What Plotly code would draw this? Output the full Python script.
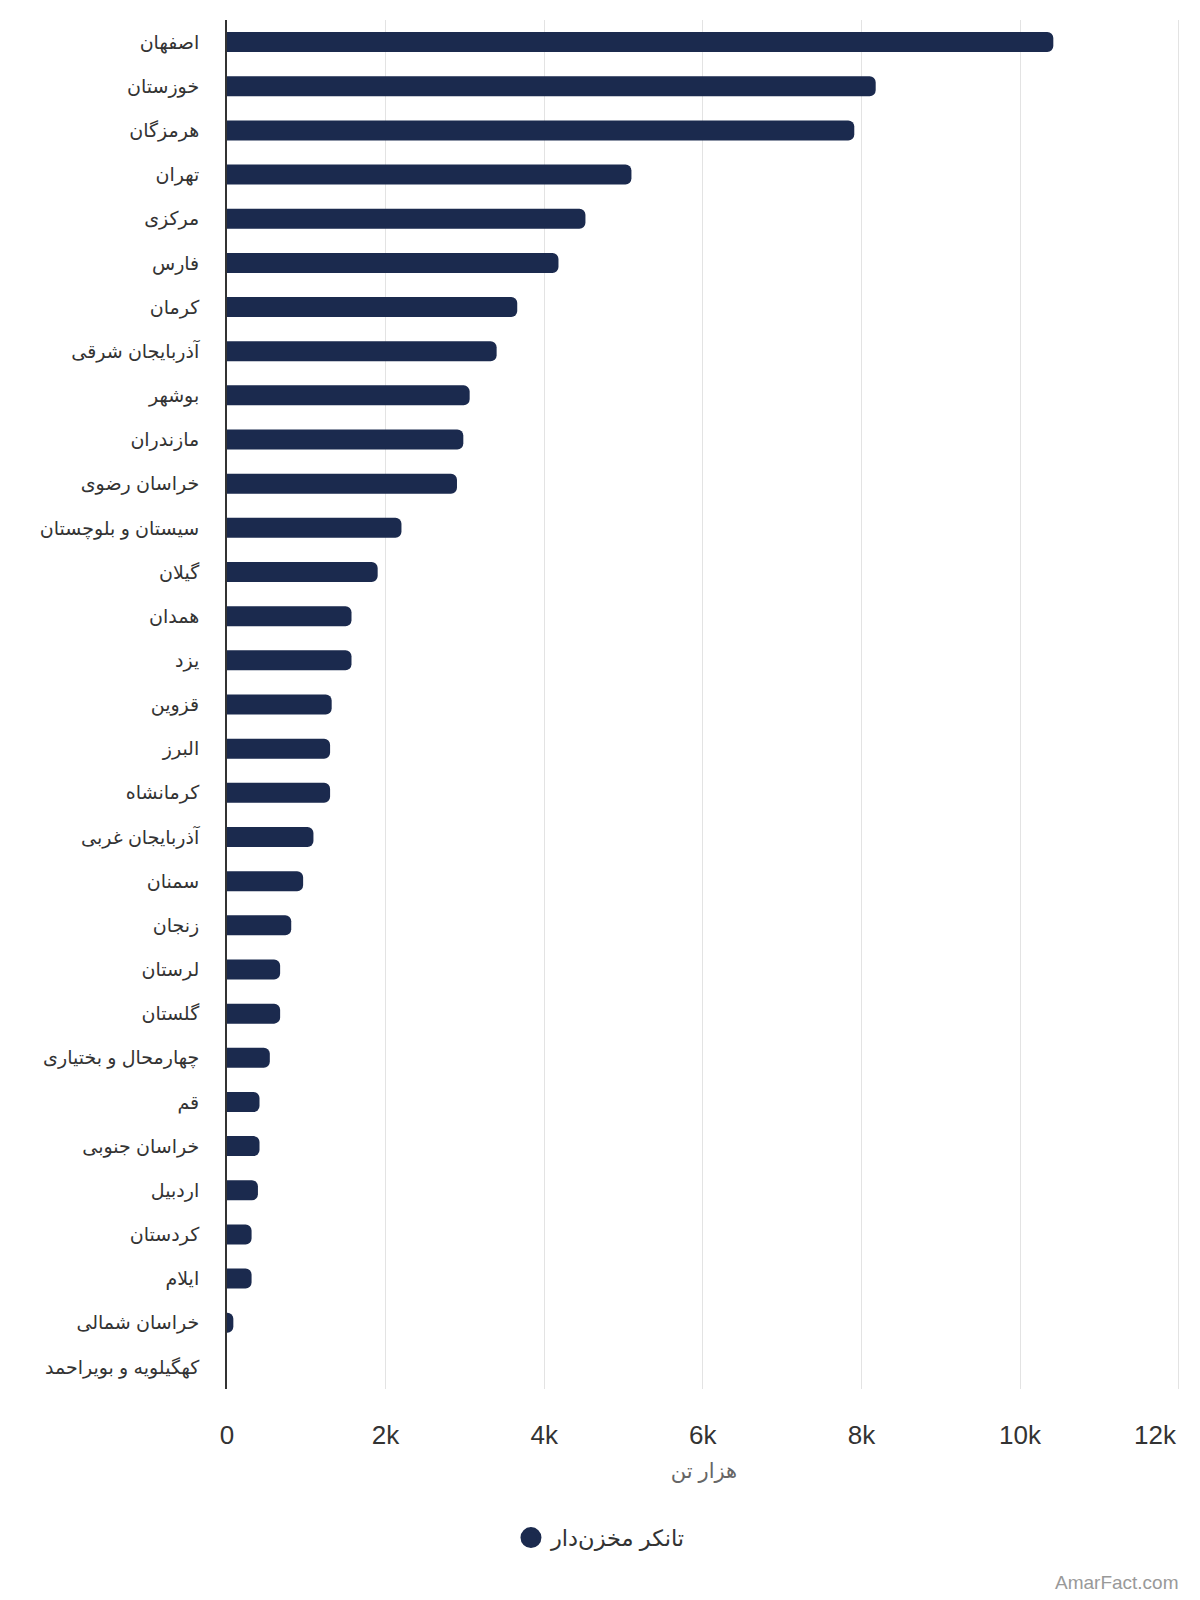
import plotly.graph_objects as go

provinces = ["اصفهان", "خوزستان", "هرمزگان", "تهران", "مرکزی", "فارس", "کرمان",
             "آذربایجان شرقی", "بوشهر", "مازندران", "خراسان رضوی", "سیستان و بلوچستان",
             "گیلان", "همدان", "یزد", "قزوین", "البرز", "کرمانشاه", "آذربایجان غربی",
             "سمنان", "زنجان", "لرستان", "گلستان", "چهارمحال و بختیاری", "قم",
             "خراسان جنوبی", "اردبیل", "کردستان", "ایلام", "خراسان شمالی",
             "کهگیلویه و بویراحمد"]
values = [10420, 8180, 7910, 5100, 4520, 4180, 3660, 3400, 3060, 2980, 2900, 2200,
          1900, 1570, 1570, 1320, 1300, 1300, 1090, 960, 810, 670, 670, 540, 410,
          410, 390, 310, 310, 80, 0]
tick_vals = [0, 2000, 4000, 6000, 8000, 10000, 12000]
tick_labels = ["0", "2k", "4k", "6k", "8k", "10k", "12k"]
series_name = "تانکر مخزن‌دار"
axis_title = "هزار تن"
bar_color = "#1b2a4e"
font_family = "'Liberation Sans', 'DejaVu Sans', sans-serif"

# the last tick label is right-aligned at the plot edge (as in the reference)
tick_text = tick_labels[:-1] + [""]

fig = go.Figure()
fig.add_trace(go.Bar(
    x=values, y=provinces, orientation="h",
    marker=dict(color=bar_color, cornerradius=6, line=dict(width=0)),
    showlegend=False, name=series_name,
))
fig.add_trace(go.Scatter(
    x=[None], y=[None], mode="markers", name=series_name,
    marker=dict(color=bar_color, size=16, symbol="circle",
                line=dict(color=bar_color, width=5)),
))

fig.update_layout(
    width=1184, height=1584,
    margin=dict(l=219, r=11, t=12, b=203),
    paper_bgcolor="white", plot_bgcolor="white",
    font=dict(family=font_family, color="#333"),
    bargap=0.547,
    legend=dict(orientation="h", x=0.392, xanchor="center", y=-0.1088, yanchor="middle",
                font=dict(size=22.5, color="#333"), itemsizing="trace"),
    annotations=[
        dict(text="AmarFact.com", xref="paper", yref="paper", x=1.0, y=-0.1417,
             xanchor="right", yanchor="middle", showarrow=False,
             font=dict(size=19, color="#999")),
        dict(text=tick_labels[-1], xref="x", yref="paper", x=tick_vals[-1], y=-0.0336,
             xanchor="right", yanchor="middle", showarrow=False,
             font=dict(size=26, color="#333")),
    ],
)
fig.update_xaxes(
    range=[0, 12030], tickvals=tick_vals, ticktext=tick_text,
    showgrid=True, gridcolor="#e3e3e3", gridwidth=1, zeroline=False,
    tickfont=dict(size=26, color="#333"), ticklabelstandoff=28,
    title=dict(text=axis_title, font=dict(size=21, color="#666"), standoff=14),
    automargin=False, fixedrange=True,
)
fig.update_yaxes(
    autorange="reversed", showline=True, linecolor="#333", linewidth=2,
    showgrid=False, tickfont=dict(size=19, color="#333"), ticklabelstandoff=22,
    ticks="", automargin=False,
)

fig.write_html("out.html")
